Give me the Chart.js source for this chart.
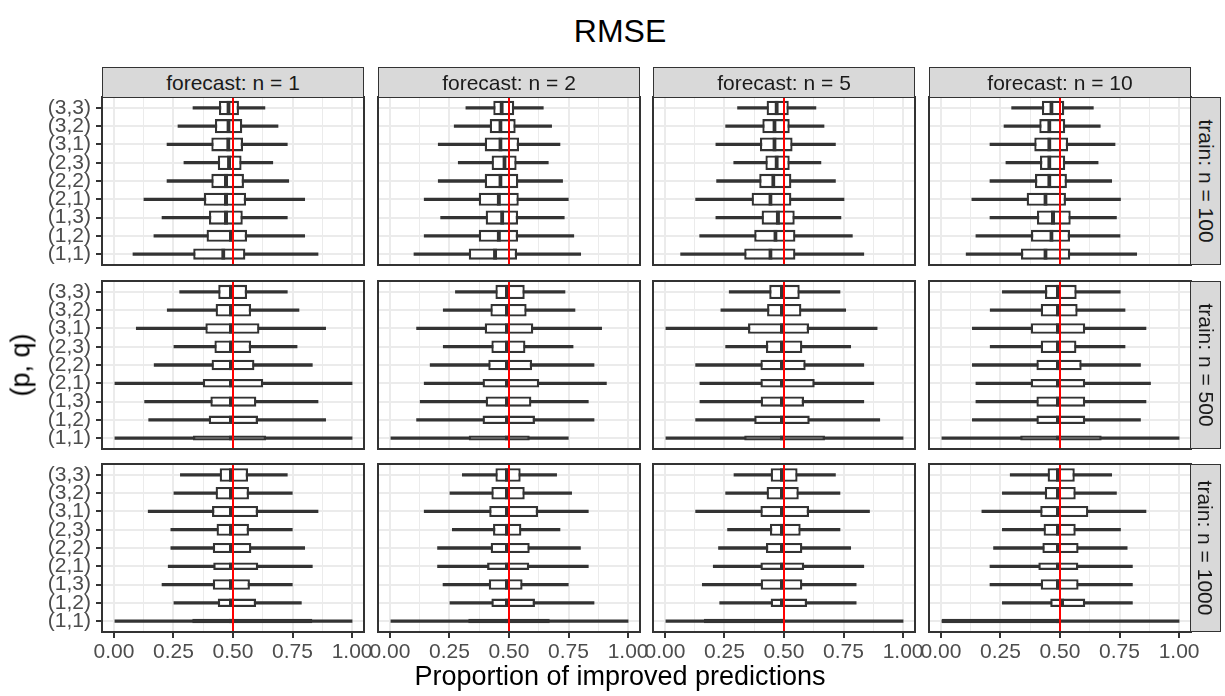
<!DOCTYPE html>
<html><head><meta charset="utf-8">
<script src="https://cdn.jsdelivr.net/npm/chart.js@4.4.1/dist/chart.umd.min.js"></script>
<style>
html,body{margin:0;padding:0;background:#fff;}
body{width:1225px;height:696px;overflow:hidden;position:relative;font-family:"Liberation Sans",Arial,sans-serif;}
canvas{position:absolute;}
.strip{position:absolute;background:#D9D9D9;border:1.8px solid #333333;box-sizing:border-box;color:#1A1A1A;font-size:21px;display:flex;align-items:center;justify-content:center;white-space:nowrap;overflow:hidden;}
.rot90{transform:rotate(90deg);white-space:nowrap;}
.txt{position:absolute;white-space:nowrap;color:#000;}
</style></head>
<body>
<script>
// ---------------- data ----------------
const categories = ['(1,1)','(1,2)','(1,3)','(2,1)','(2,2)','(2,3)','(3,1)','(3,2)','(3,3)'];
const forecastLabels = ['forecast: n = 1','forecast: n = 2','forecast: n = 5','forecast: n = 10'];
const trainLabels = ['train: n = 100','train: n = 500','train: n = 1000'];
const xTicks = [0, 0.25, 0.5, 0.75, 1];
const refValue = 0.5;
// relative sample sizes of each (p,q) group per training size (varwidth boxes)
const count_t100  = [53, 61, 95, 75, 95, 100, 89, 95, 100];
const count_t500  = [5, 24, 42, 25, 46, 68, 46, 70, 95];
const count_t1000 = [3, 24, 46, 19, 40, 61, 49, 68, 84];
// [whisker low, Q1, median, Q3, whisker high] for categories in order above
const t100_f1 = [[.08,.333,.468,.552,.857],[.168,.389,.50,.559,.801],[.202,.399,.479,.541,.728],[.126,.378,.479,.555,.801],[.223,.409,.479,.546,.734],[.294,.436,.492,.536,.667],[.223,.409,.489,.542,.728],[.269,.424,.49,.539,.689],[.332,.441,.49,.525,.634]];
const t100_f2 = [[.101,.331,.450,.534,.801],[.144,.373,.466,.538,.772],[.213,.402,.480,.538,.732],[.144,.373,.466,.541,.749],[.203,.398,.473,.539,.725],[.287,.427,.49,.532,.665],[.203,.398,.473,.542,.714],[.270,.419,.473,.528,.679],[.319,.434,.478,.522,.644]];
const t100_f5 = [[.066,.333,.452,.548,.835],[.146,.375,.473,.548,.787],[.214,.406,.483,.545,.739],[.129,.364,.452,.531,.752],[.217,.396,.464,.531,.716],[.289,.422,.478,.524,.655],[.214,.399,.469,.536,.716],[.255,.409,.469,.524,.668],[.305,.427,.478,.520,.634]];
const t100_f10 = [[.106,.336,.448,.543,.822],[.147,.378,.473,.542,.752],[.206,.403,.479,.545,.737],[.130,.360,.448,.525,.754],[.206,.395,.464,.529,.717],[.273,.416,.464,.522,.660],[.206,.392,.464,.534,.731],[.265,.413,.464,.522,.669],[.297,.424,.473,.518,.640]];
const t500_f1 = [[0,.332,.5,.639,1],[.146,.398,.5,.605,.889],[.129,.405,.5,.598,.857],[0,.373,.5,.627,1],[.169,.410,.5,.590,.833],[.252,.422,.5,.576,.769],[.094,.384,.5,.611,.889],[.224,.427,.5,.576,.777],[.276,.438,.5,.559,.728]];
const t500_f2 = [[0,.331,.5,.587,.749],[.112,.389,.5,.609,.857],[.127,.402,.5,.594,.833],[.144,.389,.5,.627,.909],[.169,.413,.5,.597,.857],[.224,.426,.5,.569,.769],[.112,.398,.5,.602,.889],[.224,.422,.5,.574,.777],[.275,.443,.5,.566,.735]];
const t500_f5 = [[0,.333,.5,.672,1],[.129,.375,.5,.608,.902],[.147,.402,.5,.584,.835],[.147,.401,.5,.629,.877],[.129,.401,.5,.591,.835],[.255,.424,.5,.577,.780],[0,.349,.5,.605,.891],[.235,.429,.5,.573,.759],[.270,.438,.5,.566,.735]];
const t500_f10 = [[0,.333,.5,.675,1],[.132,.401,.5,.606,.838],[.147,.401,.5,.606,.861],[.147,.377,.5,.606,.880],[.132,.401,.5,.591,.838],[.207,.419,.5,.569,.773],[.132,.377,.5,.606,.861],[.207,.419,.5,.574,.773],[.258,.437,.5,.570,.753]];
const t1000_f1 = [[0,.329,.5,.833,1],[.252,.436,.5,.597,.787],[.202,.415,.5,.571,.749],[.228,.417,.5,.606,.833],[.239,.415,.5,.577,.801],[.239,.431,.5,.567,.749],[.144,.412,.5,.605,.857],[.252,.427,.5,.567,.749],[.279,.444,.5,.563,.728]];
const t1000_f2 = [[0,.329,.5,.671,1],[.252,.426,.5,.609,.857],[.223,.415,.5,.557,.749],[.200,.408,.5,.585,.833],[.200,.423,.5,.587,.800],[.262,.433,.5,.552,.714],[.144,.417,.5,.622,.833],[.252,.426,.5,.566,.763],[.304,.443,.5,.549,.700]];
const t1000_f5 = [[0,.164,.5,.5,1],[.230,.444,.5,.597,.803],[.157,.402,.5,.577,.803],[.203,.401,.5,.585,.835],[.225,.424,.5,.577,.780],[.263,.441,.5,.570,.735],[.129,.401,.5,.605,.859],[.255,.427,.5,.562,.735],[.290,.444,.5,.557,.716]];
const t1000_f10 = [[0,0,.5,.5,1],[.258,.459,.517,.606,.804],[.206,.419,.5,.578,.804],[.206,.409,.5,.577,.804],[.221,.426,.5,.578,.782],[.258,.431,.5,.566,.754],[.172,.417,.5,.619,.861],[.258,.436,.5,.566,.737],[.291,.448,.5,.562,.717]];

const panelRows = [
  [t100_f1, t100_f2, t100_f5, t100_f10],
  [t500_f1, t500_f2, t500_f5, t500_f10],
  [t1000_f1, t1000_f2, t1000_f5, t1000_f10]
];
const rowCounts = [count_t100, count_t500, count_t1000];

// ---------------- layout ----------------
const PANEL_LEFT = [102, 378, 653, 929];
const PANEL_TOP = [97, 281, 464];
const PANEL_W = 262, PANEL_H = 168;
const STRIP_H = 30, RSTRIP_W = 31;
const TITLE_CX = 620;
const DARK = '#333333', GRID = '#EBEBEB';

Chart.defaults.font.family = '"Liberation Sans", Arial, sans-serif';

const minorBreaks = xTicks.slice(1).map((v, i) => (v + xTicks[i]) / 2);
const gridBreaks = xTicks.concat(minorBreaks).sort((a, b) => a - b);
const isMajor = v => xTicks.some(t => Math.abs(t - v) < 1e-9);
const maxCount = Math.max(...rowCounts.flat());
const boxFrac = n => (12.2 * Math.sqrt(n / maxCount) + 2.4) / 18.3;

const panelDecor = {
  id: 'panelDecor',
  afterDatasetsDraw(chart) {
    const {ctx, chartArea: a, scales: {x}} = chart;
    const px = x.getPixelForValue(refValue);
    ctx.save();
    ctx.strokeStyle = '#FF0000'; ctx.lineWidth = 2;
    ctx.beginPath(); ctx.moveTo(px, a.top); ctx.lineTo(px, a.bottom); ctx.stroke();
    ctx.strokeStyle = DARK; ctx.lineWidth = 2;
    ctx.strokeRect(a.left, a.top, a.right - a.left, a.bottom - a.top);
    ctx.restore();
  }
};

function addDiv(cls, css, html) {
  const d = document.createElement('div');
  d.className = cls; d.style.cssText = css; d.innerHTML = html;
  document.body.appendChild(d); return d;
}

function makePanel(r, c) {
  const stats = panelRows[r][c];
  const counts = rowCounts[r];
  const isLeft = c === 0, isBottom = r === 2;
  const padL = isLeft ? 0 : 30, padR = 30, padT = 3, padB = isBottom ? 0 : 3;
  const yAxisW = isLeft ? PANEL_LEFT[0] : 0;
  const xAxisH = isBottom ? 34 : 0;
  const left = PANEL_LEFT[c] - yAxisW - padL;
  const top = PANEL_TOP[r] - padT;
  const w = padL + yAxisW + PANEL_W + padR;
  const h = padT + PANEL_H + xAxisH + padB;
  const cv = document.createElement('canvas');
  cv.width = w; cv.height = h;
  cv.style.left = left + 'px'; cv.style.top = top + 'px';
  cv.style.width = w + 'px'; cv.style.height = h + 'px';
  document.body.appendChild(cv);

  const medSets = categories.map((cat, i) => ({
    data: [{x: [stats[i][1], stats[i][2]], y: i}],
    backgroundColor: 'rgba(0,0,0,0)', borderColor: DARK,
    borderWidth: {left: 0, top: 0, bottom: 0, right: 4}, borderSkipped: false,
    barPercentage: boxFrac(counts[i]), categoryPercentage: 1, grouped: false, order: 0
  }));
  const boxSets = categories.map((cat, i) => ({
    data: [{x: [stats[i][1], stats[i][3]], y: i}],
    backgroundColor: '#FFFFFF', borderColor: DARK, borderWidth: 2.3, borderSkipped: false,
    barPercentage: boxFrac(counts[i]), categoryPercentage: 1, grouped: false, order: 1
  }));
  const whisker = {
    data: categories.map((cat, i) => ({x: [stats[i][0], stats[i][4]], y: i})),
    backgroundColor: DARK, borderWidth: 0, barThickness: 2.6, grouped: false, order: 2
  };

  new Chart(cv, {
    type: 'bar',
    data: {datasets: [...medSets, ...boxSets, whisker]},
    plugins: [panelDecor],
    options: {
      indexAxis: 'y', responsive: false, animation: false, devicePixelRatio: 1,
      layout: {padding: {left: padL, right: padR, top: padT, bottom: padB}},
      plugins: {legend: {display: false}, tooltip: {enabled: false}},
      scales: {
        x: {
          type: 'linear', min: -0.05, max: 1.05, offset: false,
          afterBuildTicks: s => { s.ticks = gridBreaks.map(v => ({value: v})); },
          afterFit: s => { s.height = xAxisH; s.paddingLeft = 0; s.paddingRight = 0; s.paddingTop = 0; s.paddingBottom = 0; },
          border: {display: false},
          grid: {
            offset: false, drawTicks: isBottom, tickLength: 6, tickWidth: 2,
            color: ctx => GRID,
            lineWidth: ctx => isMajor(ctx.tick.value) ? 2 : 1,
            tickColor: ctx => isMajor(ctx.tick.value) ? DARK : 'rgba(0,0,0,0)'
          },
          ticks: {
            display: isBottom, autoSkip: false, maxRotation: 0, minRotation: 0, padding: 2,
            color: '#4D4D4D', font: {size: 21},
            callback: v => isMajor(v) ? Number(v).toFixed(2) : ''
          }
        },
        y: {
          type: 'linear', min: -0.6, max: 8.6, offset: false,
          afterBuildTicks: s => { s.ticks = categories.map((cat, i) => ({value: i})); },
          afterFit: s => { s.width = yAxisW; s.paddingLeft = 0; s.paddingRight = 0; s.paddingTop = 0; s.paddingBottom = 0; },
          border: {display: false},
          grid: {offset: false, drawTicks: isLeft, tickLength: 6, tickWidth: 2, color: GRID, lineWidth: 2, tickColor: DARK},
          ticks: {
            display: isLeft, autoSkip: false, padding: 5, color: '#4D4D4D', font: {size: 21},
            callback: v => categories[v] !== undefined ? categories[v] : ''
          }
        }
      }
    }
  });
}

for (let r = 0; r < 3; r++) for (let c = 0; c < 4; c++) makePanel(r, c);

// strips
forecastLabels.forEach((lab, c) => {
  addDiv('strip', `left:${PANEL_LEFT[c]}px;top:${PANEL_TOP[0] - STRIP_H}px;width:${PANEL_W}px;height:${STRIP_H + 1}px;`, lab);
});
trainLabels.forEach((lab, r) => {
  addDiv('strip', `left:${PANEL_LEFT[3] + PANEL_W - 1}px;top:${PANEL_TOP[r]}px;width:${RSTRIP_W}px;height:${PANEL_H}px;`, `<span class="rot90">${lab}</span>`);
});

// titles
addDiv('txt', `left:${TITLE_CX}px;top:31px;transform:translate(-50%,-50%);font-size:32px;`, 'RMSE');
addDiv('txt', `left:${TITLE_CX}px;top:676px;transform:translate(-50%,-50%);font-size:27px;`, 'Proportion of improved predictions');
addDiv('txt', `left:21px;top:${(PANEL_TOP[0] + PANEL_TOP[2] + PANEL_H) / 2}px;transform:translate(-50%,-50%) rotate(-90deg);font-size:27px;`, '(p, q)');
</script>
</body></html>
